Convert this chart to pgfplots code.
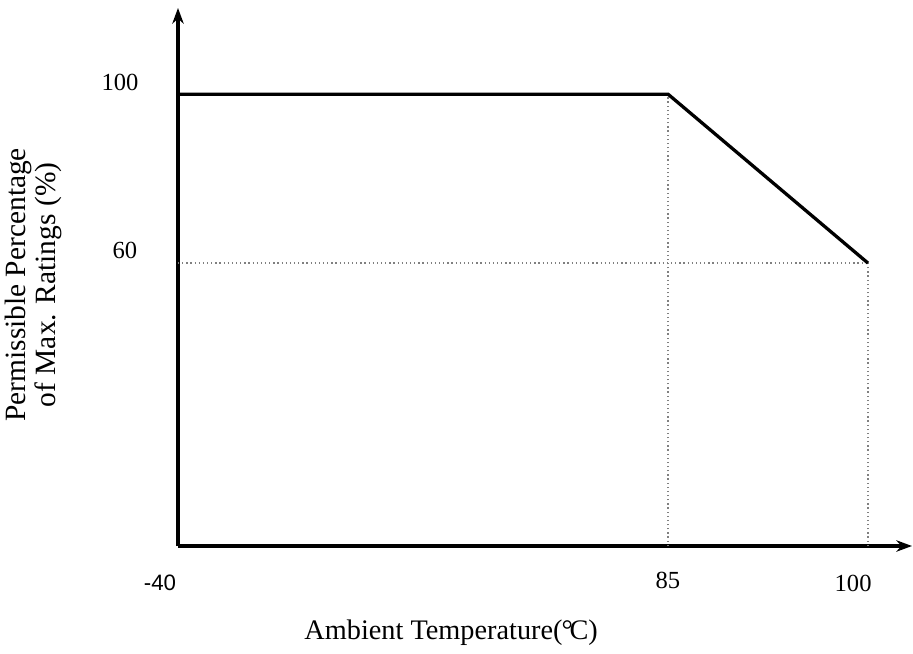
\documentclass[border=0pt]{standalone}
\usepackage{pgfplots}
\pgfplotsset{compat=1.18}
\usetikzlibrary{arrows.meta}
\usepackage{fontspec}
\setmainfont{Liberation Serif}
\newfontfamily\arial{Liberation Sans}

\begin{document}
\begin{tikzpicture}
\begin{axis}[
    at={(0,0)}, anchor=south west,
    scale only axis,
    width=256.9pt, height=188.3pt,
    % the drawing is not to scale: each segment has its own stretch
    x coord trafo/.code={\pgfmathparse{ifthenelse(#1<=85,(#1+40)*3.92,490+(#1-85)*13.3333)}},
    y coord trafo/.code={\pgfmathparse{ifthenelse(#1<=60,#1*4.7167,283+(#1-60)*4.225)}},
    xmin=-40, xmax=103.3,
    ymin=0, ymax=120.4,
    axis lines=left,
    axis line style={line width=1.15pt, -{Stealth[length=5.5pt,width=4pt]}},
    xtick=\empty, ytick=\empty,
    clip=false,
  ]
  \addplot[gray, densely dotted, line width=0.45pt] coordinates {(85,0) (85,100)};
  \addplot[gray, densely dotted, line width=0.45pt] coordinates {(-40,60) (100,60)};
  \addplot[gray, densely dotted, line width=0.45pt] coordinates {(100,0) (100,60)};
  \addplot[black, line width=1.15pt] coordinates {(-40,100) (85,100) (100,60)};
\end{axis}
% tick labels and axis titles
\begin{scope}[every node/.style={inner sep=0pt}]
  \node[font=\arial\fontsize{7.8}{9}\selectfont] at (-6.3pt,-13pt) {-40};
  \node[font=\fontsize{8.6}{10}\selectfont] at (171.5pt,-12pt) {85};
  \node[font=\fontsize{8.6}{10}\selectfont] at (236.3pt,-13pt) {100};
  \node[font=\fontsize{8.6}{10}\selectfont] at (-20.3pt,162.4pt) {100};
  \node[font=\fontsize{8.6}{10}\selectfont] at (-18.6pt,103.6pt) {60};
  \node[font=\fontsize{9.9}{12}\selectfont] at (95.6pt,-30.5pt) {Ambient Temperature(\kern-0.3pt°\kern-1.2pt C)};
  \node[font=\fontsize{10.3}{8.8}\selectfont, rotate=90, align=center] at (-50.6pt,91.4pt)
    {Permissible Percentage\\of Max. Ratings (\%)};
\end{scope}
\pgfresetboundingbox
\useasboundingbox (-62.3pt,-37.45pt) rectangle (257.25pt,191.1pt);
\end{tikzpicture}
\end{document}
